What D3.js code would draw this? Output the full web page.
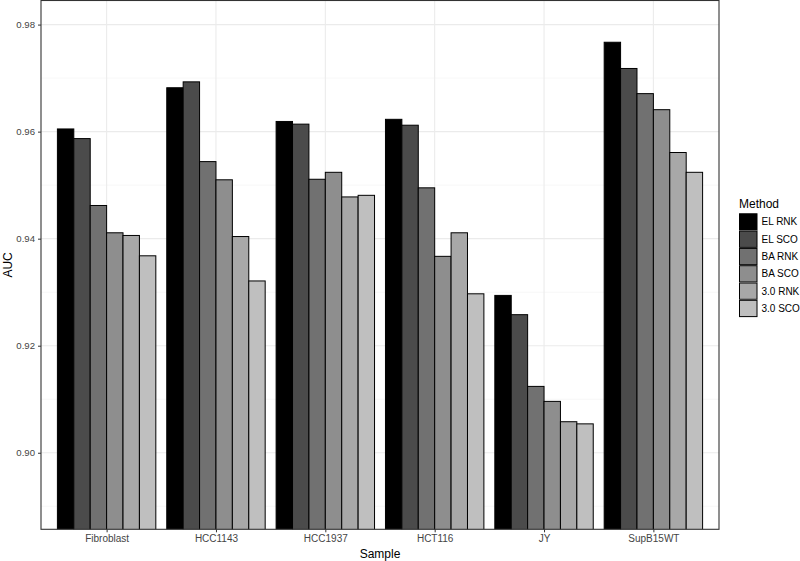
<!DOCTYPE html>
<html>
<head>
<meta charset="utf-8">
<script src="https://cdn.jsdelivr.net/npm/d3@7"></script>
<style>
  body { margin: 0; background: #fff; }
  svg { font-family: "Liberation Sans", Arial, sans-serif; }
</style>
</head>
<body>
<div id="chart"></div>
<script>
// data
var samples = ["Fibroblast", "HCC1143", "HCC1937", "HCT116", "JY", "SupB15WT"];
var methods = ["EL RNK", "EL SCO", "BA RNK", "BA SCO", "3.0 RNK", "3.0 SCO"];
var elRnk = [0.9605, 0.9682, 0.9619, 0.9623, 0.9294, 0.9767];
var elSco = [0.9587, 0.9693, 0.9614, 0.9612, 0.9258, 0.9718];
var baRnk = [0.9462, 0.9544, 0.9511, 0.9495, 0.9124, 0.9671];
var baSco = [0.9411, 0.9510, 0.9524, 0.9367, 0.9096, 0.9641];
var v3Rnk = [0.9406, 0.9404, 0.9478, 0.9411, 0.9058, 0.9561];
var v3Sco = [0.9368, 0.9321, 0.9481, 0.9297, 0.9054, 0.9524];
var yTicks = [0.90, 0.92, 0.94, 0.96, 0.98];
var yMinor = [0.89, 0.91, 0.93, 0.95, 0.97];
var fills = ["#000000", "#4b4b4b", "#717171", "#8e8e8e", "#a8a8a8", "#bfbfbf"];

var series = [elRnk, elSco, baRnk, baSco, v3Rnk, v3Sco];
var rows = [];
samples.forEach(function(s, i) {
    methods.forEach(function(m, j) {
        rows.push({sample: s, method: m, value: series[j][i]});
    });
});

var W = 800, H = 561;
var panel = {left: 41, right: 719, top: 0.5, bottom: 529.3};

var svg = d3.select("#chart").append("svg")
    .attr("width", W)
    .attr("height", H);

var x = d3.scalePoint()
    .domain(samples)
    .range([panel.left, panel.right])
    .padding(0.6);

var groupW = x.step() * 0.9;
var xIn = d3.scaleBand()
    .domain(methods)
    .range([-groupW / 2, groupW / 2]);

var y = d3.scaleLinear()
    .domain([0.8857, 0.9845])
    .range([panel.bottom, panel.top]);

var color = d3.scaleOrdinal().domain(methods).range(fills);

// panel background + grid
svg.append("rect")
    .attr("x", panel.left).attr("y", panel.top)
    .attr("width", panel.right - panel.left)
    .attr("height", panel.bottom - panel.top)
    .attr("fill", "#fff");

svg.append("g").selectAll("line.minor")
    .data(yMinor)
    .enter().append("line")
    .attr("x1", panel.left).attr("x2", panel.right)
    .attr("y1", function(d) { return y(d); })
    .attr("y2", function(d) { return y(d); })
    .attr("stroke", "#f2f2f2").attr("stroke-width", 0.6);

svg.append("g").selectAll("line.major")
    .data(yTicks)
    .enter().append("line")
    .attr("x1", panel.left).attr("x2", panel.right)
    .attr("y1", function(d) { return y(d); })
    .attr("y2", function(d) { return y(d); })
    .attr("stroke", "#ebebeb").attr("stroke-width", 1.1);

svg.append("g").selectAll("line.vx")
    .data(samples)
    .enter().append("line")
    .attr("x1", function(d) { return x(d); })
    .attr("x2", function(d) { return x(d); })
    .attr("y1", panel.top).attr("y2", panel.bottom)
    .attr("stroke", "#ebebeb").attr("stroke-width", 1.1);

// bars, clipped to the panel
svg.append("clipPath").attr("id", "clip")
    .append("rect")
    .attr("x", panel.left).attr("y", panel.top)
    .attr("width", panel.right - panel.left)
    .attr("height", panel.bottom - panel.top);

svg.append("g")
    .attr("clip-path", "url(#clip)")
    .selectAll("rect")
    .data(rows)
    .enter().append("rect")
    .attr("x", function(d) { return x(d.sample) + xIn(d.method); })
    .attr("y", function(d) { return y(d.value); })
    .attr("width", xIn.bandwidth())
    .attr("height", function(d) { return panel.bottom + 5 - y(d.value); })
    .attr("fill", function(d) { return color(d.method); })
    .attr("stroke", "#000")
    .attr("stroke-width", 1);

// panel border
svg.append("rect")
    .attr("x", panel.left).attr("y", panel.top)
    .attr("width", panel.right - panel.left)
    .attr("height", panel.bottom - panel.top)
    .attr("fill", "none")
    .attr("stroke", "#333").attr("stroke-width", 1.1);

// axes
var xAxis = svg.append("g")
    .attr("transform", "translate(0," + panel.bottom + ")")
    .call(d3.axisBottom(x).tickSize(3).tickPadding(3));
xAxis.select(".domain").remove();
xAxis.selectAll("line").attr("stroke", "#333");
xAxis.selectAll("text")
    .attr("fill", "#444")
    .style("font-size", "10px");

var yAxis = svg.append("g")
    .attr("transform", "translate(" + panel.left + ",0)")
    .call(d3.axisLeft(y).tickValues(yTicks).tickFormat(d3.format(".2f")).tickSize(3).tickPadding(3));
yAxis.select(".domain").remove();
yAxis.selectAll("line").attr("stroke", "#333");
yAxis.selectAll("text")
    .attr("fill", "#444")
    .style("font-size", "9.6px");

// axis titles
svg.append("text")
    .attr("x", (panel.left + panel.right) / 2)
    .attr("y", 558)
    .attr("text-anchor", "middle")
    .style("font-size", "12px")
    .text("Sample");

svg.append("text")
    .attr("transform", "translate(12," + ((panel.top + panel.bottom) / 2) + ") rotate(-90)")
    .attr("text-anchor", "middle")
    .style("font-size", "12px")
    .text("AUC");

// legend
var legend = svg.append("g").attr("transform", "translate(739,0)");
legend.append("text")
    .attr("x", 0).attr("y", 207.5)
    .style("font-size", "12px")
    .text("Method");

var keyH = 17.3;
var keys = legend.selectAll("g.key")
    .data(methods)
    .enter().append("g")
    .attr("transform", function(d, i) { return "translate(0," + (213.3 + i * keyH) + ")"; });
keys.append("rect")
    .attr("width", 18.5).attr("height", keyH)
    .attr("fill", "#f2f2f2");
keys.append("rect")
    .attr("x", 0.5).attr("y", 0.5)
    .attr("width", 17.5).attr("height", keyH - 1)
    .attr("fill", function(d) { return color(d); })
    .attr("stroke", "#000").attr("stroke-width", 1);
keys.append("text")
    .attr("x", 22.5).attr("y", keyH / 2)
    .attr("dy", "0.35em")
    .style("font-size", "10px")
    .text(function(d) { return d; });
</script>
</body>
</html>
